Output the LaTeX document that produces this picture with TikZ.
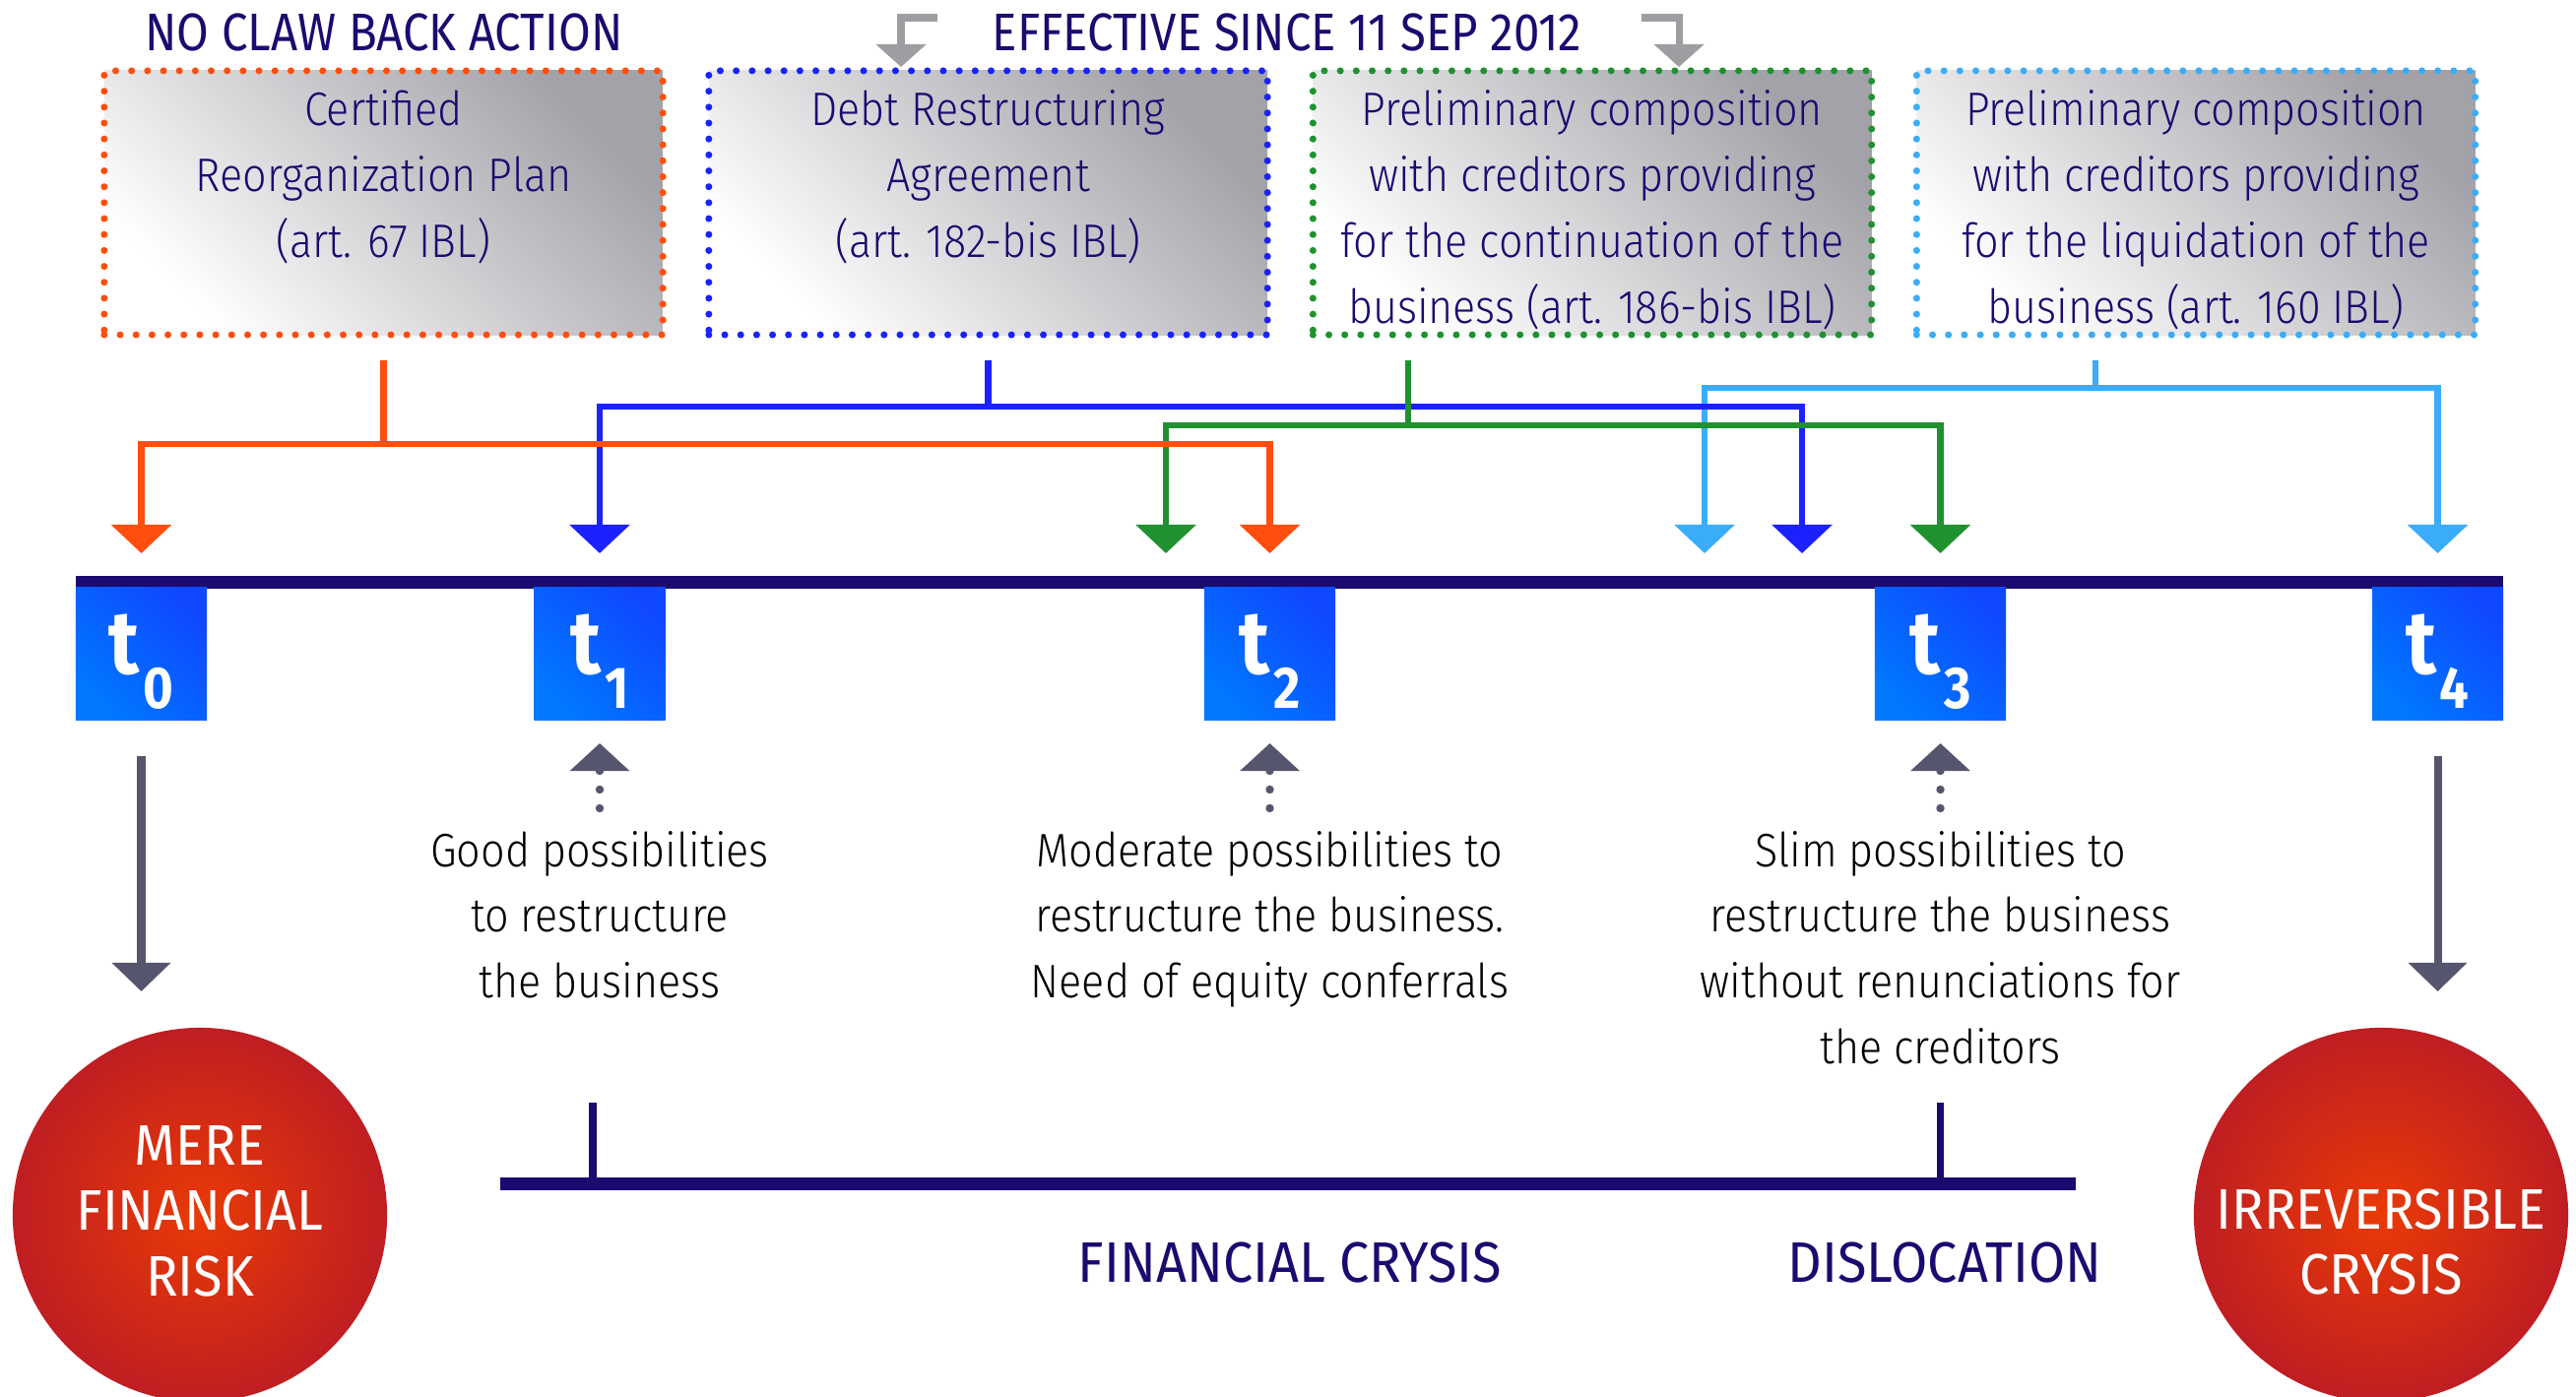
\documentclass[tikz,border=0pt]{standalone}
\usepackage{fontspec}
\setmainfont{Fira Sans}[UprightFont={* Light},BoldFont={* Bold},FakeStretch=0.9]
\newfontfamily\headfont{Fira Sans}[FakeStretch=0.88]
\newfontfamily\tagfont{Fira Sans}[FakeStretch=0.93]
\usetikzlibrary{arrows.meta}

\definecolor{navy}{HTML}{1A0B70}
\definecolor{corange}{HTML}{FF4E0D}
\definecolor{cblue}{HTML}{1B22FF}
\definecolor{cgreen}{HTML}{20912F}
\definecolor{clight}{HTML}{3AACFA}
\definecolor{cuegray}{HTML}{55556E}
\definecolor{topgray}{HTML}{9E9EA2}
\definecolor{boxgray}{HTML}{A2A2A8}
\definecolor{tblueA}{HTML}{1048FF}
\definecolor{tblueB}{HTML}{0078FF}
\definecolor{riskin}{HTML}{E93A06}
\definecolor{riskout}{HTML}{BF1E22}

\newcommand{\boxtext}[1]{\parbox[c][2.5cm][t]{5.6cm}{\centering\strut#1}}
\newcommand{\stack}[1]{\parbox[t]{6cm}{\centering#1}}
\newcommand{\tlab}[1]{{\fontsize{26}{26}\selectfont t}\kern1pt\raisebox{-10.2pt}{\fontsize{17}{17}\selectfont #1}}

\tikzset{
  procbox/.style={draw=#1, line width=2pt, dash pattern=on 0pt off 4.6pt, line cap=round,
    top color=boxgray, bottom color=white, shading angle=-45,
    minimum width=5.67cm, inner xsep=0pt, inner ysep=0.09cm, text=navy,
    font=\fontsize{13.6}{19}\selectfont},
  tbox/.style={top color=tblueA, bottom color=tblueB, shading angle=-45,
    minimum width=1.33cm, minimum height=1.34cm, inner sep=0pt,
    text height=22pt, text depth=10.6pt, text=white, font=\headfont\bfseries},
  link/.style={line width=1.9pt, line join=miter, -{Triangle[width=0.6cm,length=0.29cm]}},
  upcue/.style={cuegray, line width=2.4pt, dash pattern=on 0pt off 0.19cm, line cap=round,
    -{Triangle[width=0.59cm,length=0.28cm]}},
  downcue/.style={cuegray, line width=2.3pt, -{Triangle[width=0.58cm,length=0.29cm]}},
  bentcue/.style={topgray, line width=2pt, line join=miter, -{Triangle[width=0.5cm,length=0.23cm]}},
  head/.style={anchor=base, text=navy, font=\headfont\fontsize{15.3}{19}\selectfont},
  tag/.style={anchor=base, text=navy, font=\tagfont\fontsize{16.5}{19}\selectfont},
  note/.style={anchor=base, text=black, font=\fontsize{13.6}{19}\selectfont},
  risk/.style={circle, minimum size=3.8cm, inner sep=0pt, inner color=riskin, outer color=riskout},
  risktxt/.style={anchor=base, text=white, font=\tagfont\fontsize{16.5}{19}\selectfont}
}

\begin{document}
\begin{tikzpicture}[x=0.01cm,y=-0.01cm]
\useasboundingbox (0,0) rectangle (2616,1419);

% headings
\node[head] (noclaw) at (390,52) {NO CLAW BACK ACTION};
\node[head] (since) at (1307,52) {EFFECTIVE SINCE 11 SEP 2012};
\coordinate (sinceL) at (952,18);
\coordinate (sinceR) at (1667,18);
\coordinate (draTop) at (915,68);
\coordinate (contTop) at (1705,68);
\draw[bentcue] (sinceL) -| (draTop);
\draw[bentcue] (sinceR) -| (contTop);

% procedures
\node[procbox=corange] (plan) at (389.5,206) {\boxtext{Certified\\Reorganization Plan\\(art. 67 IBL)}};
\node[procbox=cblue] (dra) at (1003.5,206) {\boxtext{Debt Restructuring\\Agreement\\(art. 182-bis IBL)}};
\node[procbox=cgreen] (cont) at (1617,206) {\boxtext{Preliminary composition\\with creditors providing\\for the continuation of the\\business (art. 186-bis IBL)}};
\node[procbox=clight] (liq) at (2230,206) {\boxtext{Preliminary composition\\with creditors providing\\for the liquidation of the\\business (art. 160 IBL)}};

% time line
\fill[navy] (77,585) rectangle (2542,598);
\node[tbox] (t0) at (143.5,664) {\tlab{0}};
\node[tbox] (t1) at (609,664) {\tlab{1}};
\node[tbox] (t2) at (1289.5,664) {\tlab{2}};
\node[tbox] (t3) at (1970.5,664) {\tlab{3}};
\node[tbox] (t4) at (2475.5,664) {\tlab{4}};

% links
\coordinate (planS) at (plan.south |- 0,366);
\coordinate (draS) at (dra.south |- 0,366);
\coordinate (contS) at (1430,366);
\coordinate (liqS) at (2128,366);
\coordinate (liqA) at (1731,562);
\coordinate (draA) at (1830,562);
\coordinate (contA) at (1184,562);

\draw[link,clight] (liqS) -- (liqS |- 0,394) -| (liqA);
\draw[link,clight] (liqS |- 0,394) -| (t4.north |- 0,562);
\draw[link,cblue] (draS) -- (draS |- 0,413) -| (t1.north |- 0,562);
\draw[link,cblue] (draS |- 0,413) -| (draA);
\draw[link,cgreen] (contS) -- (contS |- 0,432) -| (contA);
\draw[link,cgreen] (contS |- 0,432) -| (t3.north |- 0,562);
\draw[link,corange] (planS) -- (planS |- 0,451) -| (t0.north |- 0,562);
\draw[link,corange] (planS |- 0,451) -| (t2.north |- 0,562);

% outlook
\draw[upcue] (t1.south |- 0,821) -- (t1.south |- 0,755);
\draw[upcue] (t2.south |- 0,821) -- (t2.south |- 0,755);
\draw[upcue] (t3.south |- 0,821) -- (t3.south |- 0,755);
\node[note] (good) at (609,880) {\stack{Good possibilities\\to restructure\\the business}};
\node[note] (moderate) at (1289.5,880) {\stack{Moderate possibilities to\\restructure the business.\\Need of equity conferrals}};
\node[note] (slim) at (1970.5,880) {\stack{Slim possibilities to\\restructure the business\\without renunciations for\\the creditors}};

\node[risk] (mere) at (203,1234) {};
\node[risk] (irrev) at (2418,1234) {};
\node[risktxt] (meretxt) at (203,1183) {\stack{MERE\\FINANCIAL\\RISK}};
\node[risktxt] (irrevtxt) at (2418,1248) {\stack{IRREVERSIBLE\\CRYSIS}};
\draw[downcue] (t0.south |- 0,768) -- (t0.south |- 0,1007);
\draw[downcue] (t4.south |- 0,768) -- (t4.south |- 0,1007);

% phases
\fill[navy] (508,1196) rectangle (2108,1209);
\draw[navy, line width=2pt] (602,1120) -- (602,1197);
\draw[navy, line width=2pt] (1970,1120) -- (1970,1197);
\node[tag] (crisis) at (1310,1302) {FINANCIAL CRYSIS};
\node[tag] (disloc) at (1975,1302) {DISLOCATION};
\end{tikzpicture}
\end{document}
